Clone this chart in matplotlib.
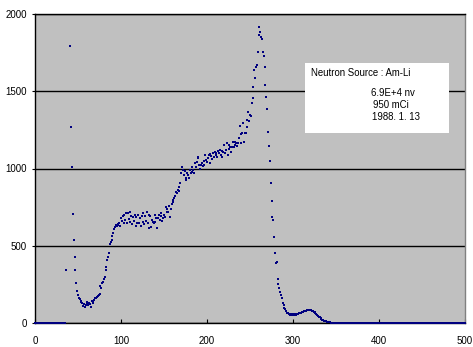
import numpy as np
import matplotlib
matplotlib.use("Agg")
import matplotlib.pyplot as plt
from matplotlib.patches import Rectangle

nan = float("nan")

# counts per channel (channels 0..500)
counts_0_50 = [0] * 36 + [340, nan, nan, nan, nan,
               1795, 1270, 1012, 705, 537, 429, 343, 257, 207, 178]
counts_51_100 = [165, 153, 145, 138, 131, 110, 123, 106, 118, 123,
                 136, 115, 127, 120, 106, 145, 130, 145, 150, 160,
                 165, 170, 175, 181, 185, 239, 225, 257, 268, 285,
                 300, 343, 365, 408, 429, 455, 511, 526, 540, 563,
                 580, 606, 620, 634, 625, 634, 640, 645, 630, 677]
counts_101_150 = [660, 690, 645, 700, 668, 715, 650, 710, 672, 720,
                  655, 690, 640, 688, 660, 700, 630, 685, 650, 700,
                  645, 680, 625, 690, 655, 712, 640, 695, 660, 720,
                  650, 700, 615, 690, 623, 666, 655, 645, 700, 655,
                  680, 612, 677, 700, 666, 690, 709, 660, 677, 700]
counts_151_200 = [688, 752, 720, 740, 720, 760, 688, 735, 770, 785,
                  796, 810, 822, 850, 839, 860, 856, 880, 904, 972,
                  1011, 990, 960, 985, 940, 925, 968, 957, 940, 990,
                  968, 979, 1012, 990, 968, 1033, 1011, 1043, 1065, 1072,
                  1022, 1000, 1022, 1033, 1015, 1050, 1022, 1087, 1054, 1040]
counts_201_250 = [1065, 1087, 1093, 1033, 1080, 1060, 1098, 1072, 1108, 1087,
                  1098, 1076, 1114, 1098, 1119, 1090, 1114, 1076, 1110, 1151,
                  1098, 1119, 1162, 1087, 1123, 1151, 1141, 1110, 1136, 1173,
                  1140, 1150, 1173, 1162, 1145, 1163, 1200, 1276, 1223, 1162,
                  1231, 1292, 1173, 1228, 1227, 1314, 1266, 1368, 1307, 1346]
counts_251_300 = [1339, 1425, 1454, 1526, 1638, 1588, 1660, 1670, 1756, 1864,
                  1917, 1886, 1849, 1836, 1756, 1728, 1655, 1540, 1461, 1383,
                  1238, 1145, 1050, 904, 791, 688, 666, 558, 451, 386,
                  397, 283, 252, 224, 200, 181, 160, 127, 116, 95,
                  88, 75, 67, 62, 58, 56, 55, 57, 54, 56]
counts_301_350 = [55, 57, 56, 55, 58, 60, 62, 63, 66, 68,
                  71, 73, 76, 78, 80, 81, 83, 84, 86, 84,
                  83, 80, 78, 74, 68, 62, 58, 52, 46, 41,
                  37, 31, 26, 22, 19, 15, 12, 10, 8, 7,
                  5, 4, 4, 3, 3, 2, 3, 2, 1, 2]
counts_351_500 = [1, 2, 1, 0, 2, 1, 1, 0, 1, 2, 0, 1, 1, 0, 2, 1, 0, 1, 1, 0,
                  1, 0, 2, 1, 0, 1, 0, 1, 1, 0, 0, 1, 2, 0, 1, 0, 1, 0, 0, 1,
                  1, 0, 1, 0, 0, 2, 1, 0, 1, 0, 0, 1, 0, 1, 0, 0, 1, 1, 0, 0,
                  1, 0, 0, 1, 0, 2, 0, 1, 0, 0, 1, 0, 1, 0, 0, 1, 0, 0, 1, 0,
                  0, 1, 0, 0, 1, 0, 1, 0, 0, 0, 1, 0, 0, 1, 0, 0, 1, 0, 0, 1,
                  0, 0, 1, 0, 0, 0, 1, 0, 1, 0, 0, 0, 1, 0, 0, 1, 0, 0, 0, 1,
                  0, 0, 1, 0, 0, 0, 1, 0, 0, 1, 0, 0, 0, 1, 0, 0, 0, 1, 0, 0,
                  1, 0, 0, 0, 1, 0, 0, 0, 1, 0]

counts = (counts_0_50 + counts_51_100 + counts_101_150 + counts_151_200
          + counts_201_250 + counts_251_300 + counts_301_350 + counts_351_500)
channels = list(range(len(counts)))

x_ticks = [0, 100, 200, 300, 400, 500]
y_ticks = [0, 500, 1000, 1500, 2000]

info_lines = ["Neutron Source : Am-Li", "6.9E+4 nv", "950 mCi", "1988. 1. 13"]

plt.rcParams['font.family'] = ['Liberation Sans', 'DejaVu Sans']

fig = plt.figure(figsize=(4.73, 3.47), dpi=100)
ax = fig.add_axes([35 / 473, 24 / 347, 430 / 473, 309 / 347])
ax.set_facecolor('#C0C0C0')

ax.plot(channels, counts, linestyle='none', marker='s', markersize=1.7,
        color='#000080', markeredgewidth=0, clip_on=False, zorder=3)

ax.set_xlim(0, 500)
ax.set_ylim(0, 2000)
ax.set_xticks(x_ticks)
ax.set_yticks(y_ticks)
ax.set_xticklabels([str(v) for v in x_ticks], fontsize=7)
ax.set_yticklabels([str(v) for v in y_ticks], fontsize=7)
ax.tick_params(axis='x', direction='in', length=3, width=0.8, pad=9, colors='black')
ax.tick_params(axis='y', direction='out', length=2, width=0.8, pad=4, colors='black')
ax.yaxis.grid(True, color='black', linewidth=1)
ax.set_axisbelow(True)
for s in ['left', 'bottom', 'top']:
    ax.spines[s].set_color('black')
    ax.spines[s].set_linewidth(1)
ax.spines['right'].set_color('#808080')
ax.spines['right'].set_linewidth(1)

# info box
fig.patches.append(Rectangle((305 / 473, 1 - 133 / 347), 144 / 473, 70 / 347,
                             transform=fig.transFigure, facecolor='white',
                             edgecolor='none', zorder=5))
pos = [(310.7, 73.3), (371, 93.3), (372.7, 105), (372.3, 116.7)]
for (px, py), t in zip(pos, info_lines):
    fig.text(px / 473, 1 - py / 347, t, fontsize=6.9, ha='left', va='center',
             zorder=6)

fig.savefig('out.png', dpi=100)
